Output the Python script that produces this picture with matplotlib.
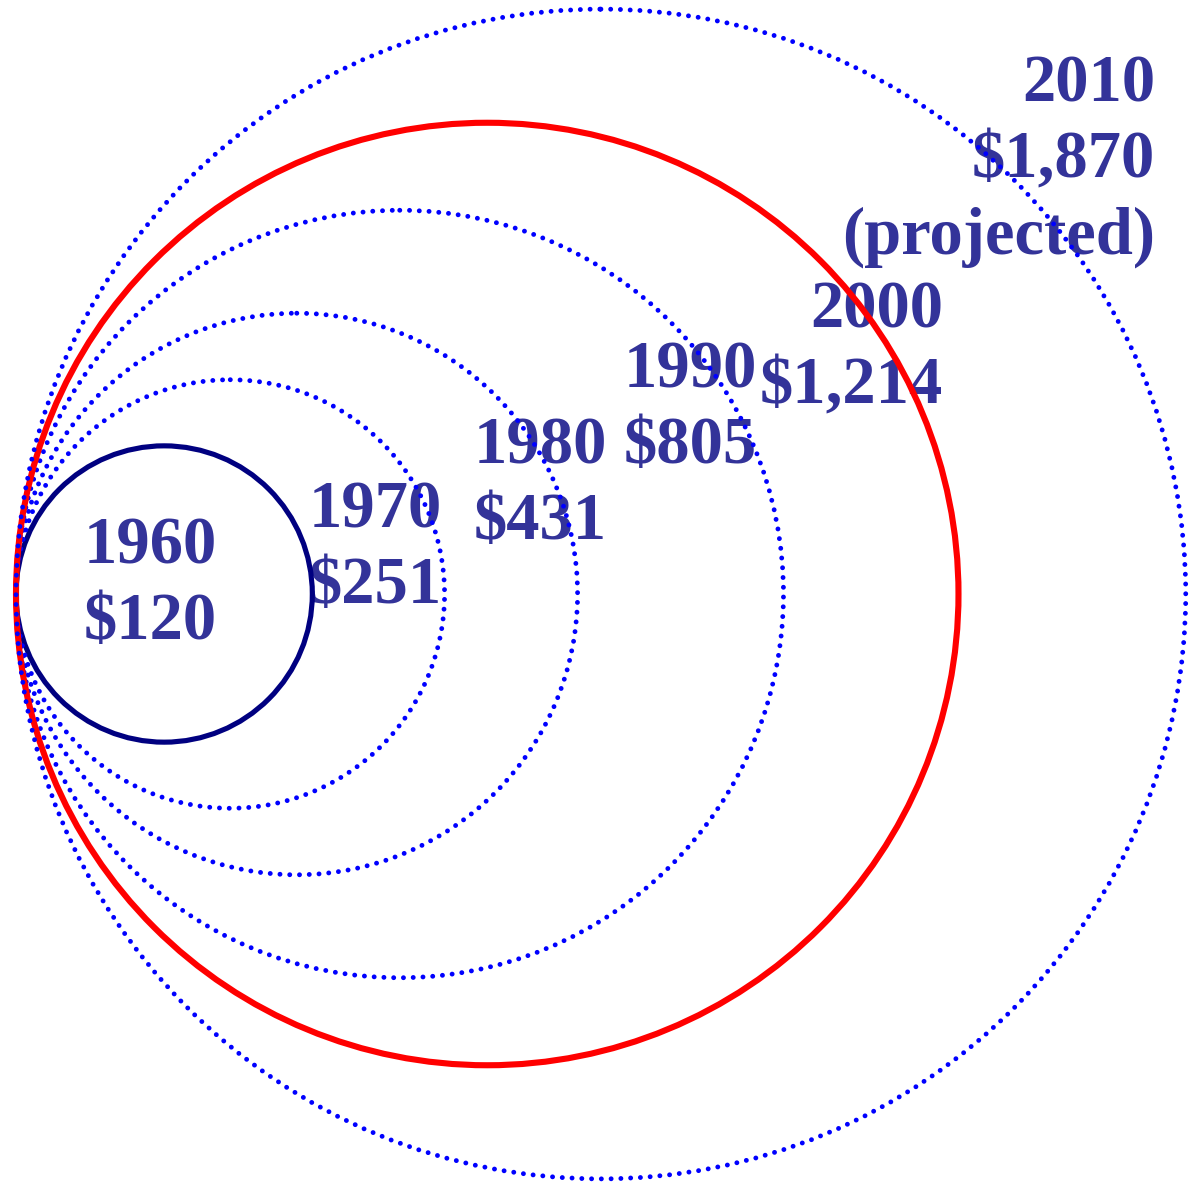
import numpy as np
import matplotlib
matplotlib.use("Agg")
import matplotlib.pyplot as plt
from matplotlib.patches import Circle

years = ["1960", "1970", "1980", "1990", "2000", "2010"]
values = [120, 251, 431, 805, 1214, 1870]
notes = ["", "", "", "", "", "(projected)"]

TEXT = "#333399"
px_per_sqrt = 27.05      # circle diameter (px) per sqrt(dollar)
left_x, mid_y = 16, 594  # all circles touch at this left point

styles = {
    "1960": dict(color="#000080", lw=3.7, ls="-"),
    "2000": dict(color="#ff0000", lw=4.4, ls="-"),
}
dotted = dict(color="#0000ff", lw=3.5, ls=(0, (0.01, 2.0)))

# label anchor (x, first baseline y, alignment)
anchors = {
    "1960": (150, 563, "center"),
    "1970": (375, 527, "center"),
    "1980": (540, 463, "center"),
    "1990": (690, 387, "center"),
    "2000": (943, 328, "right"),
    "2010": (1155, 102, "right"),
}
line_step = 76

fig = plt.figure(figsize=(12, 11.82), dpi=100)
ax = fig.add_axes([0, 0, 1, 1])
ax.set_xlim(0, 1200)
ax.set_ylim(1182, 0)
ax.axis("off")

for yr, v, note in zip(years, values, notes):
    d = px_per_sqrt * np.sqrt(v)
    st = styles.get(yr, dotted)
    c = Circle((left_x + d / 2, mid_y), d / 2, fill=False, edgecolor=st["color"],
               linewidth=st["lw"], linestyle=st["ls"], capstyle="round", zorder=3)
    ax.add_patch(c)

    x, y0, ha = anchors[yr]
    lines = [yr, f"${v:,}"] + ([note] if note else [])
    for i, s in enumerate(lines):
        ax.text(x, y0 + i * line_step, s, ha=ha, va="baseline", color=TEXT,
                fontsize=48, fontweight="bold", family="Liberation Serif", zorder=2)

fig.savefig("out.png", dpi=100)
